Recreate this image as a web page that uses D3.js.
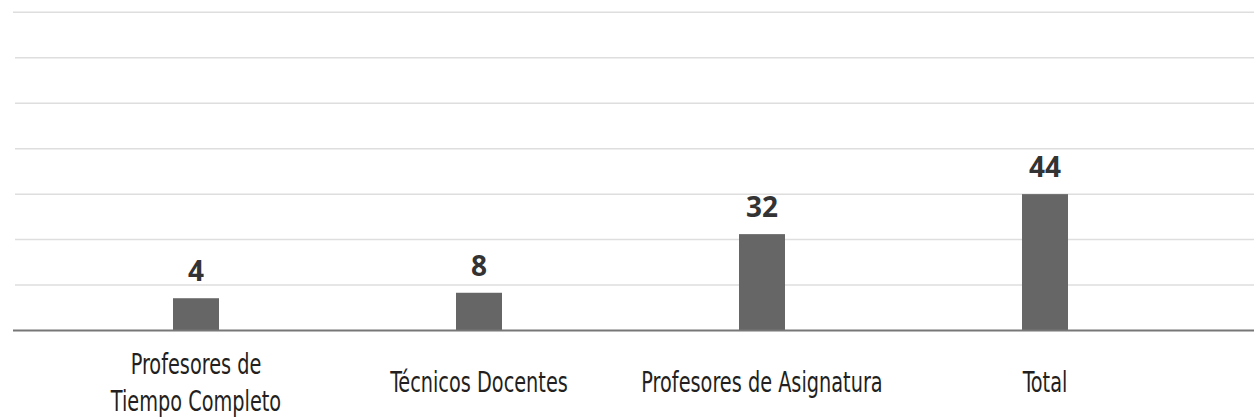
<!DOCTYPE html>
<html>
<head>
<meta charset="utf-8">
<script src="https://cdn.jsdelivr.net/npm/d3@7"></script>
<style>
  html, body { margin: 0; padding: 0; background: #fff; }
  svg { display: block; }
</style>
</head>
<body>
<svg id="chart" width="1254" height="419"></svg>
<script>
// ---- data ----
const categories = [
  ["Profesores de", "Tiempo Completo"],
  ["Técnicos Docentes"],
  ["Profesores de Asignatura"],
  ["Total"]
];
const values = [4, 8, 32, 44];                 // printed labels
const barLevels = [0.71, 0.83, 2.12, 3.0];     // bar heights read in gridline units
const gridTicks = [1, 2, 3, 4, 5, 6, 7];

// ---- layout ----
const W = 1254, H = 419;
const svg = d3.select("#chart");

const x = d3.scalePoint()
  .domain(d3.range(categories.length))
  .range([196, 1045]);
const barW = 46;

const y = d3.scaleLinear().domain([0, 7]).range([330.5, 12.3]);

// gridlines
svg.append("g").selectAll("line")
  .data(gridTicks)
  .join("line")
  .attr("x1", d => d === 7 ? 13 : 15)
  .attr("x2", W)
  .attr("y1", d => y(d))
  .attr("y2", d => y(d))
  .attr("stroke", "#dedede")
  .attr("stroke-width", 1.5);

// bars
svg.append("g").selectAll("rect")
  .data(barLevels)
  .join("rect")
  .attr("x", (d, i) => x(i) - barW / 2)
  .attr("width", barW)
  .attr("y", d => y(d))
  .attr("height", d => y(0) - y(d))
  .attr("fill", "#656665");

// baseline axis
svg.append("line")
  .attr("x1", 13).attr("x2", W)
  .attr("y1", y(0)).attr("y2", y(0))
  .attr("stroke", "#777777")
  .attr("stroke-width", 2);

// value labels
svg.append("g").selectAll("text")
  .data(values)
  .join("text")
  .attr("x", (d, i) => x(i))
  .attr("y", (d, i) => y(barLevels[i]) - 17)
  .attr("text-anchor", "middle")
  .attr("font-family", "'Open Sans', 'Noto Sans', sans-serif")
  .attr("font-weight", 700)
  .attr("font-size", 28)
  .attr("fill", "#333333")
  .text(d => d);

// category labels
const lineH = 37;
const midBase = 392;
const catG = svg.append("g");
categories.forEach((lines, i) => {
  const n = lines.length;
  lines.forEach((t, j) => {
    const base = midBase + (j - (n - 1) / 2) * lineH;
    catG.append("text")
      .attr("transform", `translate(${x(i)},${base}) scale(0.74,1)`)
      .attr("text-anchor", "middle")
      .attr("font-family", "'DejaVu Sans Condensed', 'DejaVu Sans', sans-serif")
      .attr("font-stretch", "condensed")
      .attr("font-size", 29)
      .attr("fill", "#231f20")
      .text(t);
  });
});
</script>
</body>
</html>
